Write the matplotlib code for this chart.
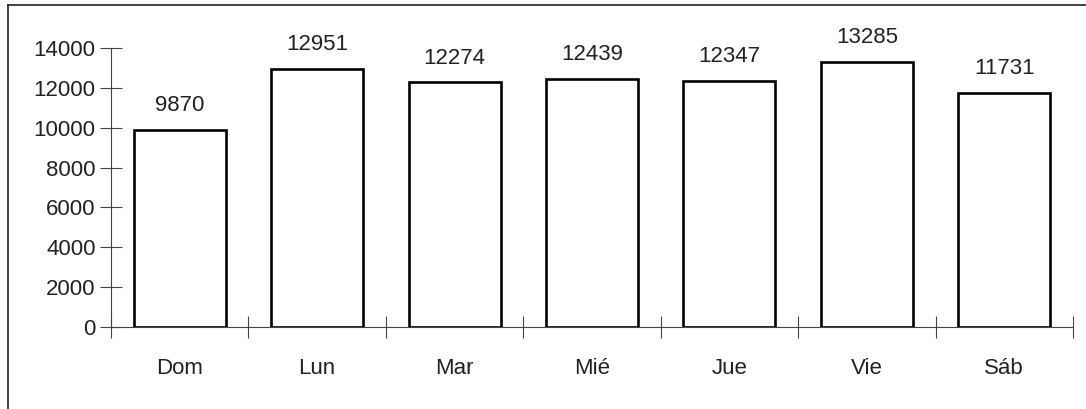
import matplotlib.pyplot as plt
from matplotlib.lines import Line2D
from matplotlib import font_manager
import numpy as np

# Prefer a condensed face if one is installed
names = {f.name for f in font_manager.fontManager.ttflist}
family = 'Liberation Sans Narrow' if 'Liberation Sans Narrow' in names else 'Liberation Sans'
plt.rcParams['font.family'] = [family, 'DejaVu Sans']
plt.rcParams['font.size'] = 16

dias = ['Dom', 'Lun', 'Mar', 'Mié', 'Jue', 'Vie', 'Sáb']
valores = [9870, 12951, 12274, 12439, 12347, 13285, 11731]

fig = plt.figure(figsize=(10.86, 4.09), dpi=100)
fig.patch.set_facecolor('white')
ax = fig.add_axes([0.1022, 0.2005, 0.8858, 0.6821])

x = np.arange(len(dias))
bars = ax.bar(x, valores, width=0.67, facecolor='white', edgecolor='black',
              linewidth=1.9, zorder=3)
for b, v in zip(bars, valores):
    ax.annotate(str(v), (b.get_x() + b.get_width() / 2, v), xytext=(0, 10),
                textcoords='offset points', ha='center', va='bottom', color='#222222')

ax.set_xlim(-0.5, len(dias) - 0.5)
ax.set_ylim(0, 14000)
ax.set_yticks(np.arange(0, 14001, 2000))

# category labels in the middle, tick marks on the boundaries
ax.set_xticks(x)
ax.set_xticklabels(dias)
ax.tick_params(axis='x', which='major', length=0, pad=22, colors='#222222')
ax.set_xticks(np.arange(-0.5, len(dias)), minor=True)
ax.tick_params(axis='x', which='minor', direction='inout', length=16, width=0.8, color='#444444')
ax.tick_params(axis='y', direction='inout', length=16, width=0.8, color='#444444',
               labelcolor='#222222', pad=3)

for s in ['top', 'right']:
    ax.spines[s].set_visible(False)
for s in ['left', 'bottom']:
    ax.spines[s].set_color('#444444')
    ax.spines[s].set_linewidth(0.8)

# outer frame (left and top edges)
W, H = 1086, 409
fig.add_artist(Line2D([8 / W, 8 / W], [0, 1 - 5 / H], color='#222222', lw=1.2))
fig.add_artist(Line2D([8 / W, 1], [1 - 5 / H, 1 - 5 / H], color='#222222', lw=1.2))

fig.savefig('out.png', dpi=100, facecolor='white')
